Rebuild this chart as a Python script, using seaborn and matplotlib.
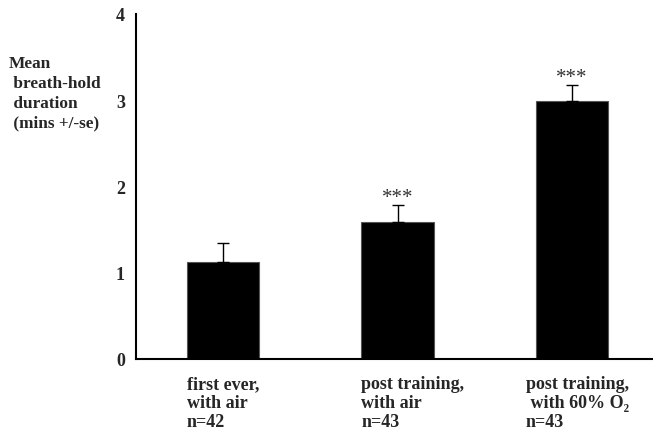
import matplotlib
matplotlib.use("Agg")
import matplotlib.pyplot as plt
import matplotlib.transforms as mtransforms
import seaborn as sns
import pandas as pd

categories = ["first ever,\nwith air\nn=42",
              "post training,\nwith air\nn=43",
              "post training,\n with 60% O\u2082\nn=43"]
means = [1.12, 1.59, 2.99]
se = [0.23, 0.20, 0.19]
stars = ["", "***", "***"]
yticks = [0, 1, 2, 3, 4]
ylabel = "Mean\n breath-hold\n duration\n (mins +/-se)"

sns.set_style("white")
plt.rcParams['font.family'] = ['Liberation Serif', 'DejaVu Serif']

fig = plt.figure(figsize=(6.53, 4.31), dpi=100)
ax = fig.add_axes([136/653, 1-360/431, 1-136/653, (360-15)/431])

df = pd.DataFrame({"cat": categories, "mean": means})
sns.barplot(data=df, x="cat", y="mean", color="black", width=0.413,
            errorbar=None, ax=ax, saturation=1, edgecolor="#555555", linewidth=0.8)

xs = list(range(len(categories)))
ax.errorbar(xs, means, yerr=[[0]*len(se), se], fmt="none", ecolor="black",
            elinewidth=1.0, capsize=4, capthick=1.0)

for x, m, s, st in zip(xs, means, se, stars):
    if st:
        ax.annotate(st, (x, m + s), xytext=(0, -1.5), textcoords="offset points",
                    ha="center", va="bottom", fontsize=15, color="#333333",
                    family=['Liberation Serif', 'DejaVu Serif'])

ax.set_xlim(-0.4986, 2.464)
ax.set_ylim(0, 4)
ax.set_yticks(yticks)
ax.set_yticklabels([str(t) for t in yticks], fontsize=13, fontweight="bold")
ax.tick_params(axis="y", direction="in", length=3, width=1.5, pad=8)
ax.set_xticks([])
ax.set_xlabel("")
ax.set_ylabel("")
for side in ["top", "right"]:
    ax.spines[side].set_visible(False)
for side in ["left", "bottom"]:
    ax.spines[side].set_linewidth(1.5)
    ax.spines[side].set_color("black")

# category labels, left-aligned near bar left edges
trans = mtransforms.blended_transform_factory(ax.transData, fig.transFigure)
offsets = [0.0, 0.0, -0.06]
for x, lab, off in zip(xs, categories, offsets):
    ax.text(x - 0.2065 + off, 1 - 376/431, lab, transform=trans, ha="left", va="top",
            fontsize=13, fontweight="bold", linespacing=1.15)

fig.text(9/653, 1 - 56/431, ylabel, ha="left", va="top", fontsize=12.4,
         fontweight="bold", linespacing=1.33)

fig.savefig("out.png", dpi=100)
